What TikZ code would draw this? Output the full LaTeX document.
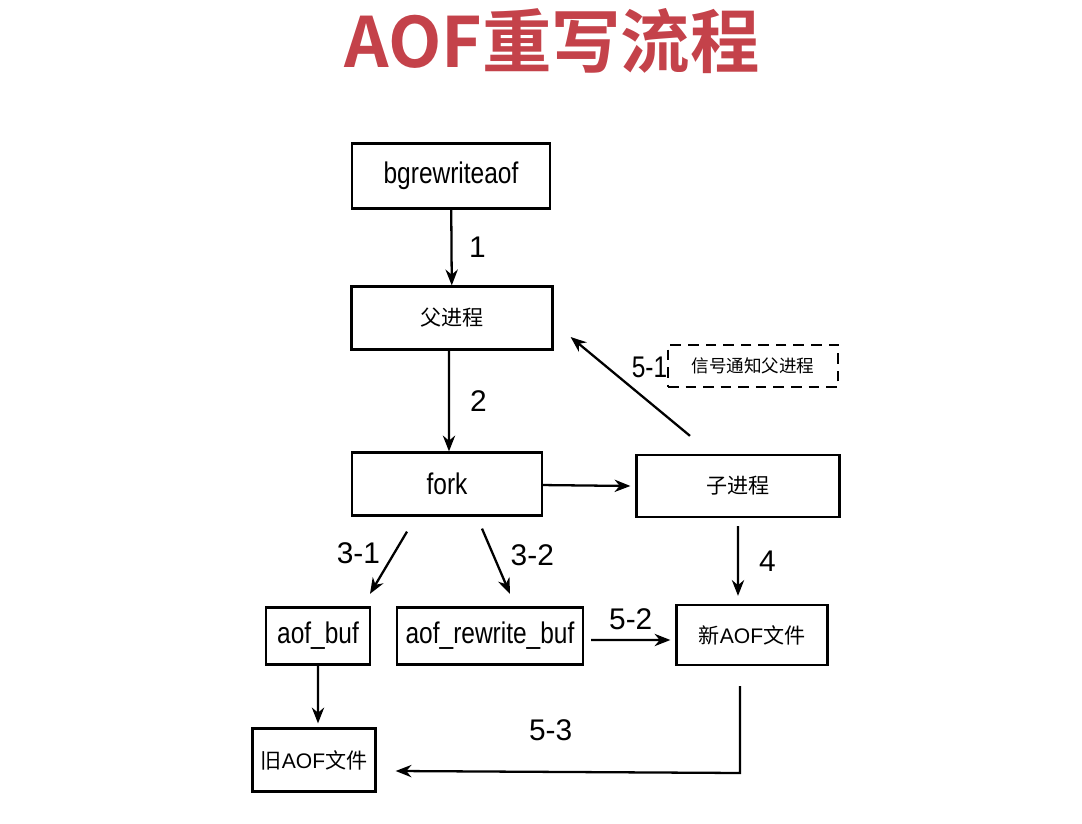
\documentclass[tikz,border=0pt]{standalone}
\usepackage{fontspec}
\setmainfont{Liberation Sans}
\newfontfamily\hand[FakeStretch=0.82]{Liberation Sans}
\newfontfamily\cjk{Noto Sans CJK SC}
\newfontfamily\cjkbold{Noto Sans CJK SC Bold}
\usetikzlibrary{arrows.meta}
\definecolor{titlered}{RGB}{196,66,74}
\begin{document}
\begin{tikzpicture}[x=0.02cm,y=-0.02cm,
box/.style={draw,line width=1.3pt,inner sep=0pt,font=\hand\fontsize{17}{17}\selectfont},
dashbox/.style={box,dashed,dash pattern=on 6pt off 4pt},
arr/.style={-{Stealth[length=9pt,width=7pt]},line width=1.3pt},
lab/.style={font=\fontsize{17}{17}\selectfont},]
\useasboundingbox (0,0) rectangle (1082,824);
\node[font=\cjkbold\fontsize{39.5}{40}\selectfont,text=titlered] (title) at (552,41) {AOF重写流程};

\node[box,minimum width=3.96cm,minimum height=1.3cm] (bgrewrite) at (451,176) {bgrewriteaof};
\node[box,minimum width=4.02cm,minimum height=1.26cm,font=\cjk\fontsize{12}{12}\selectfont] (parent) at (452,318) {父进程};
\node[box,minimum width=3.8cm,minimum height=1.26cm] (fork) at (447,484) {fork};
\node[box,minimum width=4.06cm,minimum height=1.24cm,font=\cjk\fontsize{12}{12}\selectfont] (child) at (738,486) {子进程};
\node[dashbox,minimum width=3.4cm,minimum height=0.84cm,font=\cjk\fontsize{10}{10}\selectfont] (signal) at (753,366) {信号通知父进程};
\node[box,minimum width=2.08cm,minimum height=1.14cm] (aofbuf) at (318,636) {aof\_buf};
\node[box,minimum width=3.72cm,minimum height=1.14cm] (rewritebuf) at (490,636) {aof\_rewrite\_buf};
\node[box,minimum width=3.02cm,minimum height=1.2cm,font=\fontsize{12}{12}\selectfont] (newaof) at (752,635) {{\cjk 新}AOF{\cjk 文件}};
\node[box,minimum width=2.46cm,minimum height=1.26cm,font=\fontsize{12}{12}\selectfont] (oldaof) at (314,760) {{\cjk 旧}AOF{\cjk 文件}};

% arrows
\draw[arr] (bgrewrite) -- node[lab,right=6pt] {1} (parent);
\draw[arr] ([xshift=-0.06cm]parent.south) -- node[lab,right=8pt] {2} ([xshift=0.04cm]fork.north);
\draw[arr] ([xshift=-0.8cm,yshift=-0.3cm]fork.south) -- node[lab,left=4pt,pos=0.35] {3-1} ([xshift=1.04cm,yshift=0.25cm]aofbuf.north);
\draw[arr] ([xshift=0.7cm,yshift=-0.24cm]fork.south) -- node[lab,right=6pt,pos=0.4] {3-2} ([xshift=0.4cm,yshift=0.25cm]rewritebuf.north);
\draw[arr] (fork) -- ([xshift=-0.1cm]child.west);
\draw[arr] ([yshift=-0.16cm]child.south) -- node[lab,right=8pt] {4} ([xshift=-0.28cm,yshift=0.16cm]newaof.north);
\draw[arr] ([xshift=0.14cm,yshift=-0.08cm]rewritebuf.east) -- node[lab,above=2pt] {5-2} ([xshift=-0.1cm,yshift=-0.1cm]newaof.west);
\draw[arr] (aofbuf) -- ([xshift=0.08cm,yshift=0.08cm]oldaof.north);
\coordinate (corner) at (740,773);
\draw[arr] ([xshift=-0.24cm,yshift=-0.4cm]newaof.south) -- (corner) -- node[lab,above=14pt,pos=0.55] {5-3} ([xshift=0.38cm,yshift=-0.22cm]oldaof.east);
\draw[arr] ([xshift=-0.96cm,yshift=0.36cm]child.north) -- node[lab,font=\hand\fontsize{17}{17}\selectfont,inner sep=0pt,pos=0.69,right=0.46cm] {5-1} ([xshift=0.34cm,yshift=-0.38cm]parent.east);
\end{tikzpicture}
\end{document}
